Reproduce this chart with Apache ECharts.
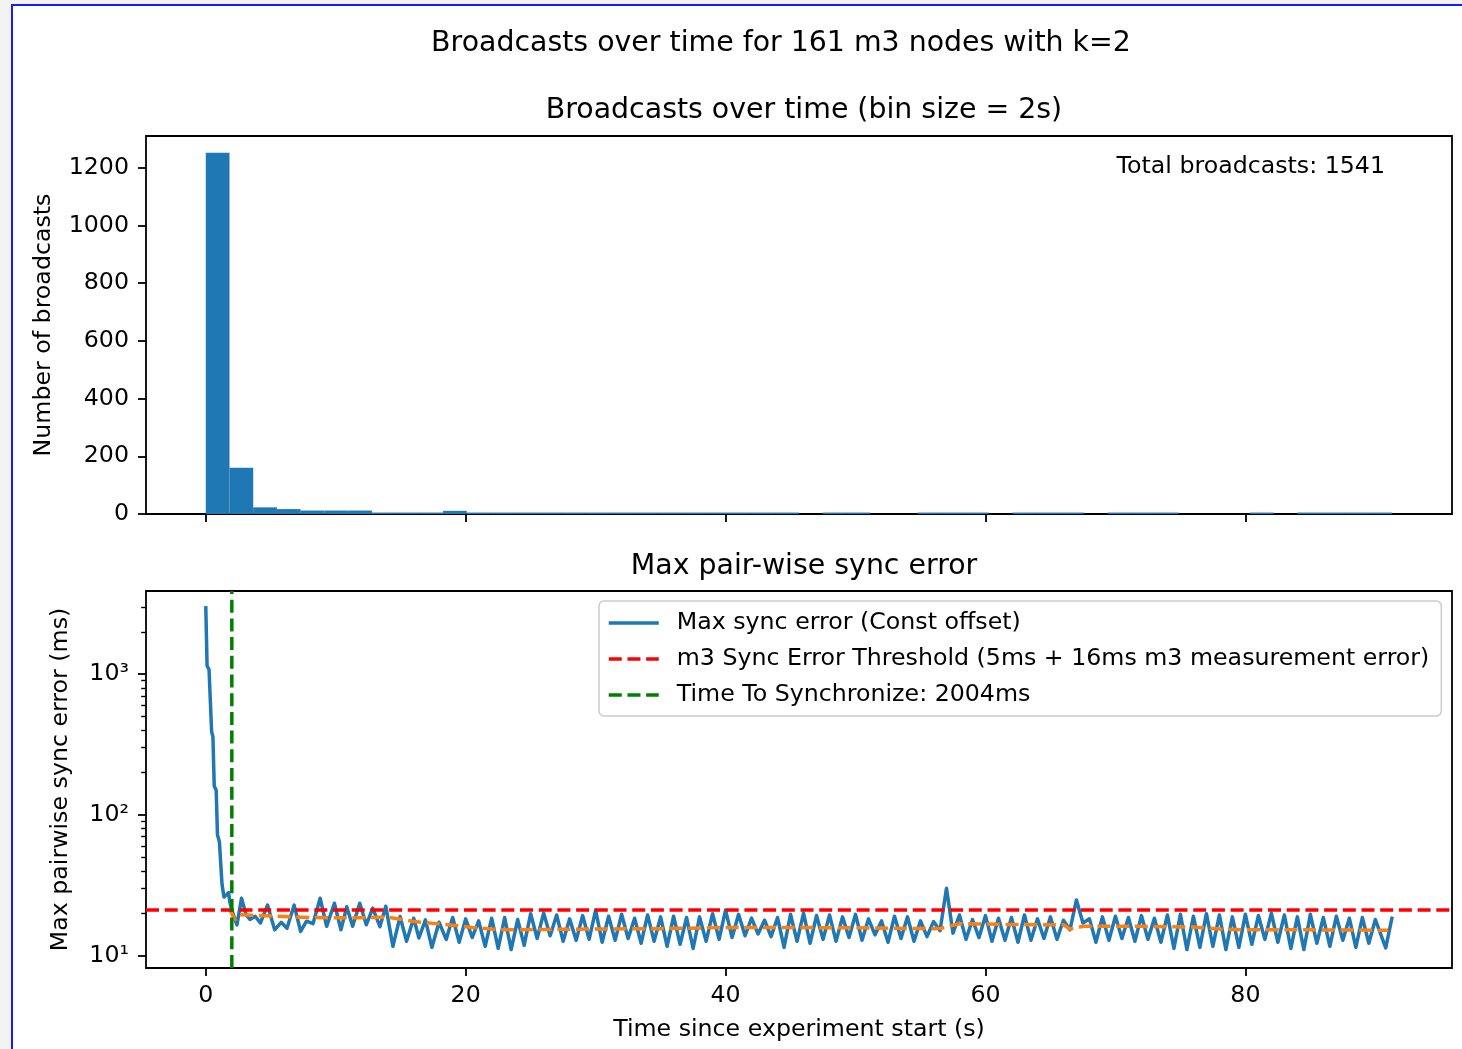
<!DOCTYPE html>
<html>
<head>
<meta charset="utf-8">
<script src="https://cdn.jsdelivr.net/npm/echarts@6/dist/echarts.min.js"></script>
<style>
html,body{margin:0;padding:0;background:#f3f3f3;overflow:hidden;width:1462px;height:1049px;}
#frame{position:absolute;left:11px;top:4px;width:1460px;height:1060px;background:#fff;border-left:2px solid #1a1aff;border-top:2px solid #1a1aff;box-sizing:border-box;}
#chart{position:absolute;left:0;top:0;width:1462px;height:1049px;}
</style>
</head>
<body>
<div id="frame"></div>
<div id="chart"></div>
<script>
// ---------------- DATA ----------------
const histBinWidth = 1.826;  // seconds per histogram bin (50 bins over the run)
const histCounts = [1252, 160, 23, 17, 12, 12, 12, 5, 5, 5,
                    11, 5, 5, 5, 5, 5, 5, 5, 5, 5,
                    5, 5, 5, 5, 5, 0, 5, 5, 0, 0,
                    5, 5, 5, 0, 5, 5, 5, 0, 5, 5,
                    5, 0, 0, 0, 5, 0, 5, 5, 5, 5];
const totalBroadcasts = 1541;

const xTicks = [0, 20, 40, 60, 80];
const histYTicks = [0, 200, 400, 600, 800, 1000, 1200];
const logMajorTicks = [10, 100, 1000];
const logMinorTicks = [20, 30, 40, 50, 60, 70, 80, 90, 200, 300, 400, 500, 600, 700, 800, 900, 2000, 3000];

// [time (s), max pair-wise sync error (ms)]
const maxSyncError = [
  [0.0, 3050], [0.1, 1150], [0.25, 1080], [0.45, 390], [0.55, 360], [0.65, 160], [0.8, 150],
  [0.9, 72], [1.05, 64], [1.25, 32], [1.4, 26], [1.6, 27], [1.75, 28], [1.85, 24], [2.0, 21],
  [2.4, 16.5], [2.75, 25.5], [3.1, 19.5], [3.4, 18.0], [3.8, 19.0], [4.2, 17.0], [4.75, 22.8],
  [5.3, 15.2], [5.8, 17.2], [6.25, 15.6], [6.8, 22.8], [7.3, 14.8], [7.75, 17.5], [8.25, 16.8],
  [8.8, 25.5], [9.3, 16.1], [9.9, 23.5], [10.4, 15.2], [10.85, 22.2], [11.3, 16.1], [11.85, 23.5],
  [12.35, 16.5], [12.85, 21.7], [13.4, 16.0], [13.85, 22.4], [14.4, 11.6], [14.95, 18.9],
  [15.45, 12.6], [16.0, 18.4], [16.4, 13.3], [16.9, 17.9], [17.4, 11.4], [17.95, 17.2],
  [18.5, 13.0], [19.0, 18.6], [19.5, 12.4], [20.0, 18.2], [20.5, 13.4], [21.0, 17.6],
  [21.5, 11.6], [22.0, 18.4], [22.5, 11.2], [23.0, 18.6], [23.5, 11.0], [24.0, 18.0],
  [24.5, 11.8], [25.0, 19.8], [25.5, 13.2], [26.0, 20.0], [26.5, 13.8], [27.0, 19.4],
  [27.5, 12.6], [28.0, 18.2], [28.5, 12.8], [29.0, 19.2], [29.5, 13.0], [30.0, 21.0],
  [30.5, 12.4], [31.0, 19.0], [31.5, 12.8], [32.0, 19.6], [32.5, 13.2], [33.0, 18.4],
  [33.5, 12.2], [34.0, 19.4], [34.5, 12.6], [35.0, 18.8], [35.5, 11.6], [36.0, 19.0],
  [36.5, 12.0], [37.0, 18.6], [37.5, 11.2], [38.0, 18.8], [38.5, 12.6], [39.0, 19.8],
  [39.5, 13.0], [40.0, 21.0], [40.5, 13.4], [41.0, 19.6], [41.5, 13.8], [42.0, 18.4],
  [42.5, 14.2], [43.0, 17.8], [43.5, 13.6], [44.0, 18.6], [44.5, 11.4], [45.0, 19.6],
  [45.5, 12.6], [46.0, 20.0], [46.5, 12.2], [47.0, 19.2], [47.5, 13.0], [48.0, 19.4],
  [48.5, 12.6], [49.0, 18.8], [49.5, 13.4], [50.0, 19.6], [50.5, 12.8], [51.0, 18.2],
  [51.5, 14.0], [52.0, 17.6], [52.5, 12.4], [53.0, 19.0], [53.5, 13.2], [54.0, 18.8],
  [54.5, 12.6], [55.0, 17.6], [55.5, 13.6], [56.0, 17.4], [56.5, 15.0], [57.0, 30.0],
  [57.5, 14.4], [58.0, 19.4], [58.5, 13.0], [59.0, 18.0], [59.5, 13.4], [60.0, 19.2],
  [60.5, 12.6], [61.0, 18.4], [61.5, 12.8], [62.0, 18.6], [62.5, 12.4], [63.0, 19.4],
  [63.5, 12.8], [64.0, 18.2], [64.5, 13.2], [65.0, 18.8], [65.5, 13.0], [66.0, 17.8],
  [66.5, 15.2], [67.0, 24.8], [67.5, 17.0], [68.0, 18.2], [68.5, 12.4], [69.0, 18.8],
  [69.5, 12.8], [70.0, 19.0], [70.5, 13.2], [71.0, 18.6], [71.5, 12.6], [72.0, 19.2],
  [72.5, 13.0], [73.0, 18.4], [73.5, 12.4], [74.0, 19.4], [74.5, 11.2], [75.0, 19.6],
  [75.5, 11.0], [76.0, 19.0], [76.5, 11.4], [77.0, 19.8], [77.5, 11.6], [78.0, 19.4],
  [78.5, 11.0], [79.0, 18.8], [79.5, 11.4], [80.0, 19.6], [80.5, 12.0], [81.0, 19.2],
  [81.5, 13.0], [82.0, 20.0], [82.5, 12.4], [83.0, 19.4], [83.5, 11.2], [84.0, 18.8],
  [84.5, 11.0], [85.0, 19.6], [85.5, 12.2], [86.0, 18.6], [86.5, 11.6], [87.0, 19.0],
  [87.5, 12.8], [88.0, 18.4], [88.5, 11.4], [89.0, 18.6], [89.5, 12.2], [90.0, 18.0],
  [90.8, 11.3], [91.3, 18.9]
];

// [time (s), smoothed sync error (ms)]
const smoothedSyncError = [
  [1.85, 21.1], [2.25, 17.9], [2.65, 19.5], [4.0, 19.2], [6.0, 18.9], [8.0, 18.6], [10.0, 18.5],
  [12.0, 18.5], [14.0, 18.7], [15.0, 18.1], [16.0, 17.4], [17.5, 16.9], [19.0, 16.4],
  [20.5, 15.8], [22.0, 15.4], [23.5, 15.2], [26.0, 15.3], [30.0, 15.4], [35.0, 15.5],
  [40.0, 15.8], [45.0, 15.8], [50.0, 15.7], [53.0, 15.6], [56.0, 15.5], [56.6, 15.6],
  [58.0, 16.8], [62.0, 16.6], [66.0, 16.5], [66.5, 15.4], [67.5, 16.1], [72.0, 16.1],
  [76.0, 15.9], [78.0, 15.4], [80.0, 15.2], [85.0, 15.2], [91.0, 15.1]
];

const syncThresholdMs = 21;       // 5ms + 16ms
const timeToSyncS = 2.004;

const xRange = [-4.6, 95.9];
const histYRange = [0, 1310];
const logYRange = [8.136, 3909];

// ---------------- CHART ----------------
const FONT = 'DejaVu Sans';
const BLACK = '#000000';
const FS = 23.7;      // tick / label / legend font size
const FS_T = 28.4;    // title font size
const DASH = [13, 5.7];
const chart = echarts.init(document.getElementById('chart'), null, {renderer: 'canvas'});

const supMap = {1: '\u00b9', 2: '\u00b2', 3: '\u00b3'};
const NAME_BLUE = 'Max sync error (Const offset)';
const NAME_RED = 'm3 Sync Error Threshold (5ms + 16ms m3 measurement error)';
const NAME_GREEN = 'Time To Synchronize: ' + Math.round(timeToSyncS * 1000) + 'ms';

const histData = [];
histCounts.forEach((c, i) => {
  if (c > 0) histData.push([i * histBinWidth, (i + 1) * histBinWidth, c]);
});

const tickStyle = {lineStyle: {color: BLACK, width: 1.8}, length: 8, inside: false};
const labelStyle = {color: BLACK, fontSize: FS, fontFamily: FONT};
const nameStyle = {fontSize: FS, color: BLACK, fontFamily: FONT};
const titleStyle = {fontSize: FS_T, fontWeight: 'normal', color: BLACK, fontFamily: FONT};

const option = {
  animation: false,
  textStyle: {fontFamily: FONT},
  title: [
    {text: 'Broadcasts over time for 161 m3 nodes with k=2', left: 776, top: 25, textAlign: 'center', textStyle: titleStyle},
    {text: 'Broadcasts over time (bin size = 2s)', left: 799, top: 92, textAlign: 'center', textStyle: titleStyle},
    {text: 'Max pair-wise sync error', left: 799, top: 548, textAlign: 'center', textStyle: titleStyle}
  ],
  grid: [
    {left: 146, top: 136, width: 1306, height: 378, show: true, borderColor: BLACK, borderWidth: 1.8, backgroundColor: 'transparent'},
    {left: 146, top: 591, width: 1306, height: 377, show: true, borderColor: BLACK, borderWidth: 1.8, backgroundColor: 'transparent'}
  ],
  xAxis: [
    {type: 'value', gridIndex: 0, min: xRange[0], max: xRange[1],
     axisLine: {show: false, onZero: false}, splitLine: {show: false},
     axisTick: Object.assign({show: true, customValues: xTicks}, tickStyle),
     axisLabel: {show: false}},
    {type: 'value', gridIndex: 1, min: xRange[0], max: xRange[1],
     axisLine: {show: false, onZero: false}, splitLine: {show: false},
     axisTick: Object.assign({show: true, customValues: xTicks}, tickStyle),
     axisLabel: Object.assign({customValues: xTicks, margin: 16, formatter: v => String(v)}, labelStyle),
     name: 'Time since experiment start (s)', nameLocation: 'middle', nameGap: 50,
     nameTextStyle: nameStyle}
  ],
  yAxis: [
    {type: 'value', gridIndex: 0, min: histYRange[0], max: histYRange[1], position: 'left',
     axisLine: {show: false, onZero: false}, splitLine: {show: false},
     axisTick: Object.assign({show: true, customValues: histYTicks}, tickStyle),
     axisLabel: Object.assign({customValues: histYTicks, margin: 17, formatter: v => String(v)}, labelStyle),
     name: 'Number of broadcasts', nameLocation: 'middle', nameGap: 90,
     nameTextStyle: nameStyle},
    {type: 'log', logBase: 10, gridIndex: 1, min: logYRange[0], max: logYRange[1], position: 'left',
     axisLine: {show: false, onZero: false}, splitLine: {show: false}, minorTick: {show: false},
     axisTick: Object.assign({show: true, customValues: logMajorTicks}, tickStyle),
     axisLabel: Object.assign({customValues: logMajorTicks, margin: 17,
       formatter: v => '10' + supMap[Math.round(Math.log10(v))]}, labelStyle),
     name: 'Max pairwise sync error (ms)', nameLocation: 'middle', nameGap: 73,
     nameTextStyle: nameStyle},
    {type: 'log', logBase: 10, gridIndex: 1, min: logYRange[0], max: logYRange[1], position: 'left', offset: 0,
     axisLine: {show: false, onZero: false}, splitLine: {show: false},
     axisTick: {show: true, customValues: logMinorTicks, length: 4.8, lineStyle: {color: BLACK, width: 1.4}},
     axisLabel: {show: false}}
  ],
  legend: {
    data: [NAME_BLUE, NAME_RED, NAME_GREEN],
    orient: 'vertical', left: 599, top: 601,
    itemWidth: 50, itemHeight: 14, itemGap: 12,
    padding: [10, 12, 9, 8],
    itemStyle: {opacity: 0},
    lineStyle: {width: 3.5},
    backgroundColor: 'rgba(255,255,255,0.8)', borderColor: '#cccccc', borderWidth: 1.6, borderRadius: 5,
    textStyle: {fontSize: FS, lineHeight: 24, color: BLACK, fontFamily: FONT, padding: [0, 0, 0, 13]}
  },
  graphic: [
    {type: 'text', x: 1385, y: 155,
     style: {text: 'Total broadcasts: ' + totalBroadcasts, fontSize: FS, fontFamily: FONT, fill: BLACK,
             align: 'right', verticalAlign: 'top', textAlign: 'right', textVerticalAlign: 'top'}}
  ],
  series: [
    {type: 'custom', name: 'Broadcasts', xAxisIndex: 0, yAxisIndex: 0, data: histData,
     encode: {x: [0, 1], y: 2},
     renderItem: function (params, api) {
       const p0 = api.coord([api.value(0), api.value(2)]);
       const p1 = api.coord([api.value(1), 0]);
       return {type: 'rect', shape: {x: p0[0], y: p0[1], width: p1[0] - p0[0], height: p1[1] - p0[1]},
               style: {fill: '#1f77b4'}};
     }},
    {type: 'line', name: NAME_BLUE, xAxisIndex: 1, yAxisIndex: 1, data: maxSyncError,
     symbol: 'none', showSymbol: false, lineStyle: {color: '#1f77b4', width: 3.5, join: 'round'},
     itemStyle: {color: '#1f77b4'}},
    {type: 'line', name: 'Smoothed', xAxisIndex: 1, yAxisIndex: 1, data: smoothedSyncError,
     symbol: 'none', showSymbol: false, lineStyle: {color: '#ff7f0e', width: 3.5, type: DASH},
     itemStyle: {color: '#ff7f0e'}},
    {type: 'line', name: NAME_RED, xAxisIndex: 1, yAxisIndex: 1,
     data: [[xRange[0], syncThresholdMs], [xRange[1], syncThresholdMs]],
     symbol: 'none', showSymbol: false, lineStyle: {color: '#ff0000', width: 3.5, type: DASH},
     itemStyle: {color: '#ff0000'}},
    {type: 'line', name: NAME_GREEN, xAxisIndex: 1, yAxisIndex: 1,
     data: [[timeToSyncS, logYRange[0]], [timeToSyncS, logYRange[1]]],
     symbol: 'none', showSymbol: false, lineStyle: {color: '#008000', width: 3.5, type: DASH},
     itemStyle: {color: '#008000'}}
  ]
};
chart.setOption(option);
</script>
</body>
</html>
